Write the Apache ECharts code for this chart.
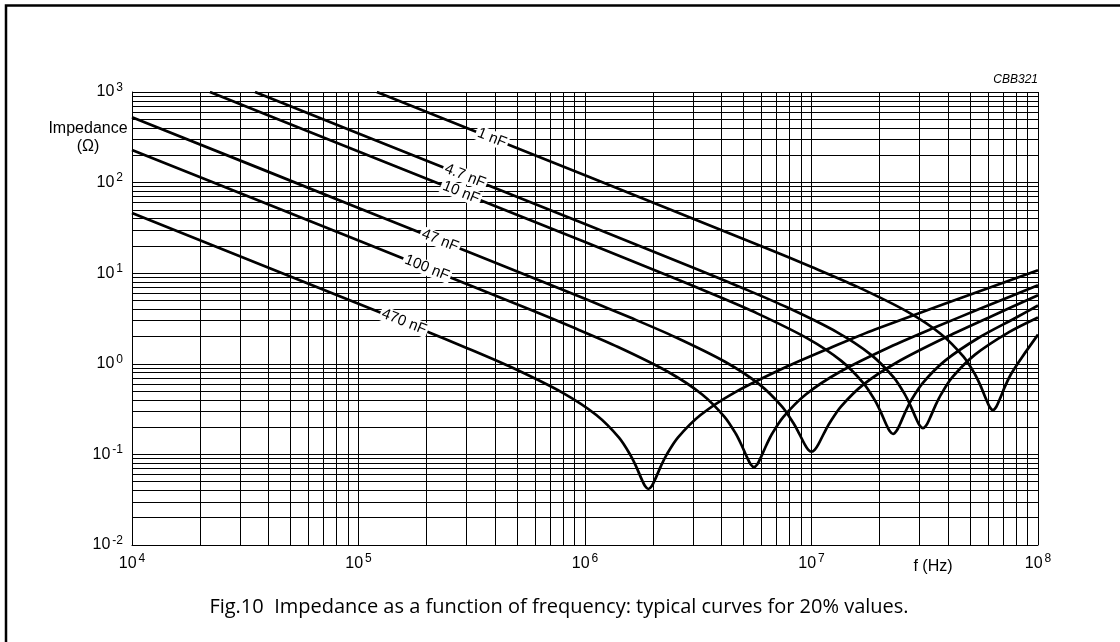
<!DOCTYPE html>
<html><head><meta charset="utf-8">
<script src="https://cdn.jsdelivr.net/npm/echarts@6/dist/echarts.min.js"></script>
<style>html,body{margin:0;padding:0;background:#fff}#c{width:1120px;height:642px}</style>
</head><body><div id="c"></div>
<script>
// ---- data (frequency Hz, impedance Ohm) ----
const seriesNames = ['1 nF', '4.7 nF', '10 nF', '47 nF', '100 nF', '470 nF'];
const curve1nF = [[120500,1000],[1e6,120.5],[6324000,18.86],[10020000,11.72],[15890000,7.11],[26360000,3.788],[37240000,2.136],[46880000,1.198],[52600000,0.771],[55720000,0.574],[59020000,0.406],[61090000,0.336],[63240000,0.309],[65460000,0.336],[67760000,0.406],[71780000,0.574],[76030000,0.771],[85310000,1.198],[1e8,2.1]];
const curve4n7F = [[34910,1000],[100000,349.1],[1e6,34.91],[3105000,11.14],[4920000,6.92],[7798000,4.20],[12940000,2.238],[18280000,1.263],[23010000,0.711],[25820000,0.460],[27350000,0.346],[28970000,0.249],[29990000,0.210],[31050000,0.195],[32140000,0.210],[33270000,0.249],[35240000,0.346],[37330000,0.460],[41880000,0.711],[52720000,1.263],[74470000,2.238],[1e8,3.25]];
const curve10nF = [[22080,1000],[100000,220.8],[1e6,22.04],[2291000,9.544],[3631000,5.93],[5754000,3.60],[9550000,1.918],[13490000,1.083],[16980000,0.609],[19050000,0.395],[20180000,0.297],[21380000,0.214],[22130000,0.181],[22910000,0.168],[23710000,0.181],[24550000,0.214],[26000000,0.297],[27540000,0.395],[30900000,0.609],[38900000,1.083],[54950000,1.95],[79430000,3.2],[1e8,4.4]];
const curve47nF = [[10000,526],[100000,52.6],[1e6,5.21],[1585000,3.237],[2512000,1.965],[4169000,1.048],[5888000,0.593],[7413000,0.337],[8318000,0.222],[8810000,0.171],[9333000,0.129],[9661000,0.113],[1e7,0.107],[10350000,0.113],[10720000,0.129],[11350000,0.171],[12020000,0.222],[13490000,0.337],[16980000,0.593],[23990000,1.048],[39810000,2.0],[63100000,3.4],[1e8,5.7]];
const curve100nF = [[10000,229.1],[100000,22.9],[557200,4.069],[883100,2.529],[1400000,1.535],[2323000,0.818],[3281000,0.462],[4130000,0.260],[4634000,0.169],[4909000,0.127],[5200000,0.0922],[5383000,0.078],[5572000,0.0726],[5768000,0.078],[5970000,0.0922],[6324000,0.127],[6699000,0.169],[7516000,0.260],[9462000,0.462],[13370000,0.818],[22180000,1.535],[35160000,2.529],[55720000,4.069],[1e8,7.38]];
const curve470nF = [[10000,46.1],[100000,4.61],[190500,2.396],[302000,1.489],[478600,0.904],[794300,0.481],[1122000,0.272],[1413000,0.153],[1585000,0.0988],[1679000,0.0742],[1778000,0.0533],[1841000,0.0447],[1905000,0.0415],[1972000,0.0447],[2042000,0.0533],[2163000,0.0742],[2291000,0.0988],[2570000,0.153],[3236000,0.272],[4571000,0.481],[7586000,0.904],[12020000,1.489],[19050000,2.396],[1e8,10.8]];
const curves = [curve1nF, curve4n7F, curve10nF, curve47nF, curve100nF, curve470nF];
// label anchor points on each curve
const labelFreq = [388200, 295100, 283500, 229100, 200400, 158900];
const labelZ = [310.5, 118.3, 77.9, 22.96, 11.43, 2.904];
// axis ranges (decade exponents)
const xExpMin = 4, xExpMax = 8;
const yExpMin = -2, yExpMax = 3;

const FONT = 'Liberation Sans, Arial, sans-serif';
const gridX = [];
for (let e = xExpMin; e < xExpMax; e++) for (let m = 1; m < 10; m++) gridX.push(m * Math.pow(10, e));
gridX.push(Math.pow(10, xExpMax));
const gridY = [];
for (let e = yExpMin; e < yExpMax; e++) for (let m = 1; m < 10; m++) gridY.push(m * Math.pow(10, e));
gridY.push(Math.pow(10, yExpMax));

function expLabel(v) {
  const e = Math.round(Math.log10(v));
  return '{b|10}{s|' + e + '}';
}
const richSup = {
  b: {fontSize: 16, fontFamily: FONT, color: '#000'},
  s: {fontSize: 12, fontFamily: FONT, color: '#000', padding: [0, 0, 9, 2]}
};

const chart = echarts.init(document.getElementById('c'));
const series = curves.map((d, i) => ({
  type: 'line', name: seriesNames[i], data: d, showSymbol: false, symbol: 'none',
  smooth: 0.3, z: 3, silent: true,
  lineStyle: {color: '#000', width: 2.7},
  markPoint: {
    symbol: 'circle', symbolSize: 1, itemStyle: {color: 'rgba(0,0,0,0)'}, silent: true,
    label: {show: true, position: 'inside', formatter: seriesNames[i], rotate: -21.8,
      color: '#000', fontSize: 15, fontFamily: FONT, backgroundColor: '#fff', padding: [0, 2]},
    data: [{coord: [labelFreq[i], labelZ[i]]}]
  }
}));
series.unshift({
  type: 'line', data: [[1e4, 1e-2]], symbol: 'none', lineStyle: {opacity: 0}, silent: true,
  markLine: {
    z: 1, silent: true, symbol: ['none', 'none'], label: {show: false},
    lineStyle: {color: '#000', width: 1, type: 'solid'},
    emphasis: {disabled: true},
    data: gridX.map(v => ({xAxis: v})).concat(gridY.map(v => ({yAxis: v})))
  }
});

chart.setOption({
  animation: false,
  backgroundColor: '#fff',
  grid: {left: 132, top: 92, width: 906, height: 453, containLabel: false},
  xAxis: {
    type: 'log', logBase: 10, min: Math.pow(10, xExpMin), max: Math.pow(10, xExpMax),
    splitNumber: xExpMax - xExpMin,
    axisLine: {show: true, lineStyle: {color: '#000', width: 1}},
    axisTick: {show: false}, splitLine: {show: false},
    axisLabel: {margin: 8, formatter: expLabel, rich: richSup}
  },
  yAxis: {
    type: 'log', logBase: 10, min: Math.pow(10, yExpMin), max: Math.pow(10, yExpMax),
    splitNumber: yExpMax - yExpMin,
    axisLine: {show: true, lineStyle: {color: '#000', width: 1}},
    axisTick: {show: false}, splitLine: {show: false},
    axisLabel: {margin: 9, formatter: expLabel, rich: richSup}
  },
  graphic: [
    {type: 'rect', silent: true, shape: {x: 6, y: 5.5, width: 1300, height: 800},
     style: {fill: 'none', stroke: '#000', lineWidth: 2.5}},
    {type: 'text', x: 88, y: 138, silent: true,
     style: {text: 'Impedance\n(Ω)', font: '16px ' + FONT, fill: '#000', align: 'center', verticalAlign: 'middle', lineHeight: 18}},
    {type: 'text', x: 1038, y: 80, silent: true,
     style: {text: 'CBB321', font: 'italic 12px ' + FONT, fill: '#000', align: 'right', verticalAlign: 'middle'}},
    {type: 'text', x: 933, y: 567, silent: true,
     style: {text: 'f (Hz)', font: '16px ' + FONT, fill: '#000', align: 'center', verticalAlign: 'middle'}},
    {type: 'text', x: 559, y: 607, silent: true,
     style: {text: 'Fig.10  Impedance as a function of frequency: typical curves for 20% values.', font: '20px "Open Sans", sans-serif', fill: '#000', align: 'center', verticalAlign: 'middle'}}
  ],
  series: series
});
</script></body></html>
